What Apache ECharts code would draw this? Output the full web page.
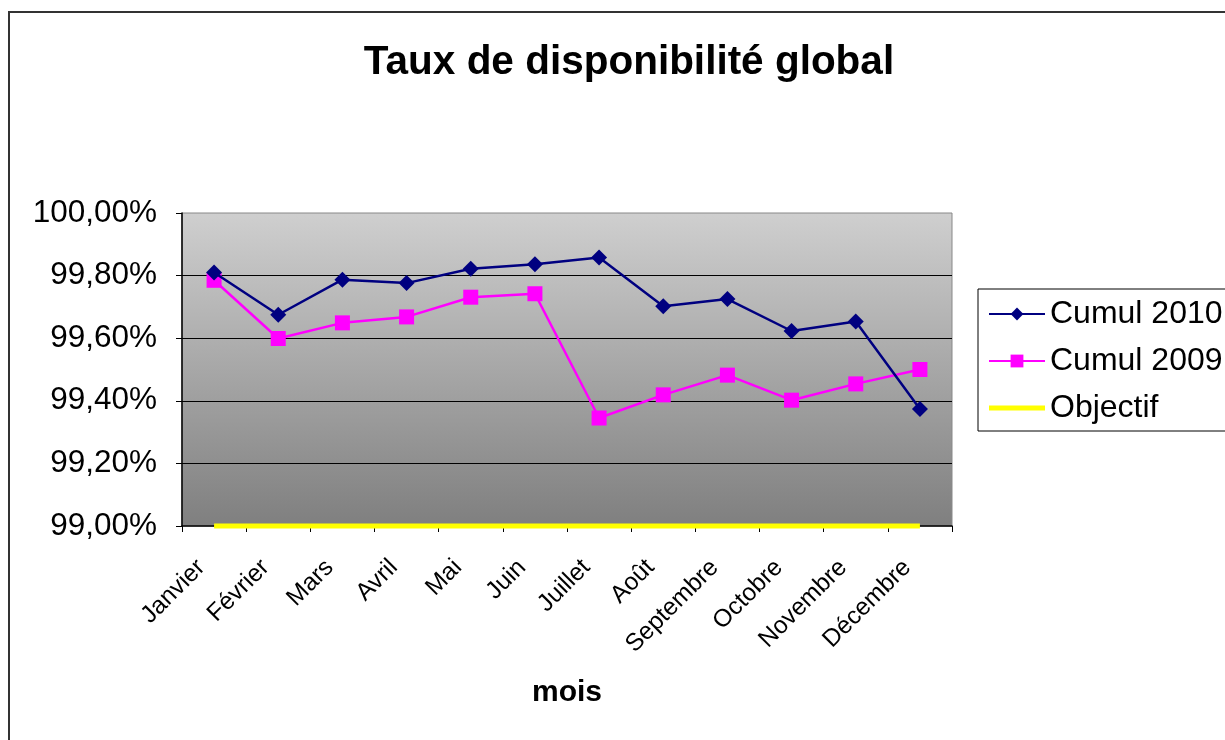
<!DOCTYPE html>
<html><head><meta charset="utf-8">
<script src="https://cdn.jsdelivr.net/npm/echarts@6/dist/echarts.min.js"></script>
<style>html,body{margin:0;padding:0;background:#fff}#c{width:1225px;height:740px}</style>
</head><body><div id="c"></div>
<script>
const months = ['Janvier','Février','Mars','Avril','Mai','Juin','Juillet','Août','Septembre','Octobre','Novembre','Décembre'];
const cumul2010 = [99.810,99.675,99.787,99.776,99.822,99.836,99.858,99.702,99.725,99.623,99.653,99.374];
const cumul2009 = [99.785,99.599,99.649,99.668,99.731,99.742,99.345,99.419,99.482,99.402,99.454,99.500];
const objectif = [99.00,99.00,99.00,99.00,99.00,99.00,99.00,99.00,99.00,99.00,99.00,99.00];

const FONT = '"Liberation Sans", Arial, sans-serif';
const chart = echarts.init(document.getElementById('c'), null, {renderer:'canvas'});
chart.setOption({
  backgroundColor:'#fff',
  animation:false,
  title:{text:'Taux de disponibilité global', left:624, top:37, textAlign:'center',
    textStyle:{fontFamily:FONT, fontWeight:'bold', fontSize:40.5, color:'#000'}},
  graphic:[{type:'rect', shape:{x:9,y:12,width:1300,height:800}, style:{fill:'none', stroke:'#333', lineWidth:2}, silent:true, z:-1}],
  grid:{left:182, top:213, width:770, height:313, show:true, borderColor:'#888', borderWidth:1,
    backgroundColor:{type:'linear',x:0,y:0,x2:0,y2:1,colorStops:[{offset:0,color:'#cfcfcf'},{offset:1,color:'#7f7f7f'}]}},
  legend:{orient:'vertical', left:978, top:289, itemWidth:56, itemHeight:16, itemGap:15,
    padding:[9,40,7,10], borderColor:'#000', borderWidth:1, backgroundColor:'#fff',
    textStyle:{fontFamily:FONT, fontSize:32, lineHeight:30, color:'#000'},
    data:['Cumul 2010','Cumul 2009',{name:'Objectif', icon:'path://M0,0L56,0L56,5L0,5Z'}]},
  xAxis:{type:'category', data:months, boundaryGap:true,
    name:'mois', nameLocation:'middle', nameGap:152,
    nameTextStyle:{fontFamily:FONT, fontWeight:'bold', fontSize:30, color:'#000'},
    axisLine:{lineStyle:{color:'#000', width:1.5}},
    axisTick:{show:true, alignWithLabel:false, length:6, lineStyle:{color:'#000'}},
    axisLabel:{rotate:45, fontFamily:FONT, fontSize:24.5, color:'#000', margin:25, interval:0,
      padding:[0,18,0,0]}},
  yAxis:{type:'value', min:99, max:100, interval:0.2,
    axisLine:{show:true, lineStyle:{color:'#000', width:1.5}},
    axisTick:{show:true, length:6, lineStyle:{color:'#000'}},
    axisLabel:{fontFamily:FONT, fontSize:31.5, color:'#000', margin:25,
      formatter:v=>v.toFixed(2).replace('.',',')+'%'},
    splitLine:{show:true, showMaxLine:false, showMinLine:false, lineStyle:{color:'#000', width:1}}},
  series:[
    {name:'Cumul 2010', type:'line', data:cumul2010, symbol:'diamond', symbolSize:16,
      lineStyle:{color:'#000080', width:2.5}, itemStyle:{color:'#000080'}, z:4},
    {name:'Cumul 2009', type:'line', data:cumul2009, symbol:'rect', symbolSize:15,
      lineStyle:{color:'#FF00FF', width:2.5}, itemStyle:{color:'#FF00FF'}, z:3},
    {name:'Objectif', type:'line', data:objectif, symbol:'none', clip:false,
      lineStyle:{color:'#FFFF00', width:5}, itemStyle:{color:'#FFFF00'}, z:5}
  ]
});
</script></body></html>
